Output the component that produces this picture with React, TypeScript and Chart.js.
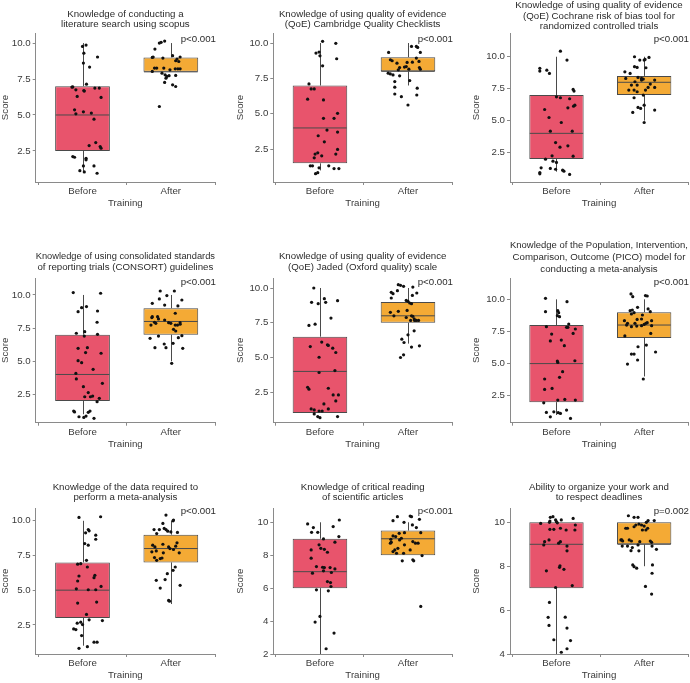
import React, { useEffect, useRef } from "react";
import { Chart, registerables } from "chart.js";

Chart.register(...registerables);
Chart.defaults.font.family = '"Liberation Sans", Arial, Helvetica, sans-serif';
Chart.defaults.color = "#3a3a3a";

// ---------- data ----------
const categories = ["Before", "After"];
const xTickValues = [0.5, 1, 1.5, 2, 2.5];
const yTicksHalf = [2.5, 5, 7.5, 10];
const yTicksCritical = [2, 4, 6, 8, 10];
const yTicksDeadlines = [4, 6, 8, 10];

const titles: string[][] = [
  ["Knowledge of conducting a", "literature search using scopus"],
  ["Knowledge of using quality of evidence", "(QoE) Cambridge Quality Checklists"],
  ["Knowledge of using quality of evidence", "(QoE) Cochrane risk of bias tool for", "randomized controlled trials"],
  ["Knowledge of using consolidated standards", "of reporting trials (CONSORT) guidelines"],
  ["Knowledge of using quality of evidence", "(QoE) Jaded (Oxford quality) scale"],
  ["Knowledge of the Population, Intervention,", "Comparison, Outcome (PICO) model for", "conducting a meta-analysis"],
  ["Knowledge of the data required to", "perform a meta-analysis"],
  ["Knowledge of critical reading", "of scientific articles"],
  ["Ability to organize your work and", "to respect deadlines"],
];
const pValues = ["p<0.001", "p<0.001", "p<0.001", "p<0.001", "p<0.001", "p<0.001", "p<0.001", "p<0.001", "p=0.002"];
const yRanges = [
  [0.34, 10.7], [0.18, 10.71], [0.19, 11.86],
  [0.36, 11.28], [0.31, 10.72], [0.4, 11.66],
  [0.4, 10.9], [2, 10.85], [4, 10.64],
];

// box stats: [lower whisker, Q1, median, Q3, upper whisker] for Before, After
const scopusBoxes = [[1, 2.5, 5, 7, 10], [8, 8, 8, 9, 10]];
const cambridgeBoxes = [[1, 1.5, 4, 7, 10], [7, 8, 8, 9, 10]];
const cochraneBoxes = [[1, 2, 4, 7, 10], [5, 7, 8, 8.5, 10]];
const consortBoxes = [[1, 2, 4, 7, 10], [5, 7, 8, 9, 10]];
const jadadBoxes = [[1, 1, 4, 6.5, 10], [6, 7.5, 8, 9, 10]];
const picoBoxes = [[1, 2, 5, 8, 10], [4, 7, 8, 9, 10]];
const metaDataBoxes = [[1, 3, 5, 7, 10], [4, 7, 8, 9, 10]];
const criticalBoxes = [[2, 6, 7, 9, 10], [8, 8, 9, 9.5, 10]];
const deadlinesBoxes = [[4, 7, 9, 10, 10], [8, 9, 9, 10, 10]];

// individual scores: [horizontal jitter (category units), score]
const scopusBefore = [[0.0,9.77],[0.04,9.86],[0.015,9.30],[0.17,9.03],[0.01,8.61],[0.08,8.33],[0.045,7.14],[-0.12,6.94],[-0.11,6.95],[-0.075,6.75],[0.015,6.70],[0.02,6.66],[0.14,6.87],[0.19,6.87],[-0.06,6.29],[0.21,6.22],[-0.09,5.36],[-0.075,5.08],[0.01,5.22],[0.10,5.13],[0.13,4.71],[0.15,3.08],[0.075,2.87],[0.2,2.80],[0.21,2.69],[-0.11,2.11],[-0.09,2.06],[0.04,1.99],[0.04,1.88],[0.01,1.46],[0.13,1.46],[-0.03,1.13],[0.02,1.04],[0.165,0.95]];
const scopusAfter = [[-0.13,10.0],[-0.11,10.05],[-0.07,10.14],[-0.18,9.58],[-0.21,9.0],[-0.2,9.03],[-0.09,8.96],[0.02,9.12],[0.07,8.89],[0.105,9.03],[0.09,8.72],[0.055,8.77],[-0.185,8.26],[-0.16,8.26],[-0.08,8.26],[-0.01,8.14],[0.05,8.21],[0.08,8.21],[0.105,8.21],[-0.21,8.03],[-0.1,7.91],[-0.065,7.79],[-0.045,7.68],[-0.02,7.73],[0.055,7.75],[-0.055,7.56],[-0.07,7.26],[0.02,7.10],[0.055,6.98],[-0.13,5.59]];
const cambridgeBefore = [[0.03,10.12],[0.18,9.98],[-0.045,9.29],[-0.01,9.36],[0,9.10],[0.19,8.89],[0.03,8.39],[-0.125,7.11],[-0.1,6.76],[-0.065,6.76],[-0.14,6.03],[0.04,5.98],[0.2,5.03],[0.04,4.68],[0.16,4.68],[0.08,3.85],[-0.02,3.45],[0.2,3.71],[0.05,3.02],[0.2,2.48],[-0.055,2.15],[-0.025,2.24],[0.02,2.03],[-0.065,1.89],[0.18,2.15],[-0.11,1.32],[-0.085,1.32],[0.1,1.32],[-0.01,1.18],[0.16,1.13],[0.215,1.13],[-0.025,0.84],[-0.05,0.77]];
const cambridgeAfter = [[0.04,9.76],[0.095,9.76],[0.11,9.69],[0.14,9.34],[-0.22,9.34],[-0.2,8.82],[-0.18,8.75],[0.095,8.94],[-0.125,8.58],[-0.01,8.63],[0.05,8.65],[0.125,8.70],[-0.095,8.27],[-0.04,8.30],[-0.02,8.34],[0.01,8.15],[-0.11,8.11],[0.13,8.27],[0.14,8.15],[-0.225,7.87],[-0.2,7.82],[-0.17,7.75],[-0.095,7.68],[-0.15,7.28],[0.02,7.35],[-0.15,6.88],[0.105,6.81],[-0.15,6.40],[-0.075,6.21],[0.1,6.33],[0,5.62]];
const cochraneBefore = [[0.045,10.44],[0.12,9.74],[-0.19,9.09],[-0.19,8.88],[-0.11,8.95],[-0.08,8.69],[0.19,7.44],[0.2,7.31],[0,6.86],[0.045,6.79],[0.15,6.71],[0.195,6.13],[0.21,6.21],[0.13,6.0],[-0.135,5.87],[-0.085,5.24],[0.055,4.85],[-0.07,4.17],[0.18,4.17],[-0.01,3.28],[0.04,2.92],[0.13,3.02],[-0.05,2.24],[0.19,2.21],[-0.125,1.98],[-0.04,1.82],[0,1.72],[-0.07,1.25],[-0.01,1.19],[0.07,1.12],[0.085,1.04],[-0.175,1.30],[-0.19,0.93],[-0.19,0.83],[0.15,0.78]];
const cochraneAfter = [[-0.11,10.0],[-0.05,9.74],[0,9.74],[0.055,9.95],[0.01,9.79],[-0.11,9.22],[-0.08,9.16],[0.02,9.14],[-0.22,8.82],[-0.16,8.69],[-0.07,8.38],[-0.03,8.30],[-0.21,8.30],[-0.01,8.25],[-0.105,8.04],[-0.03,8.17],[0.12,8.17],[0.07,7.86],[-0.145,7.78],[-0.08,7.78],[0.045,7.60],[0.12,7.60],[-0.175,7.39],[-0.115,7.39],[0.015,7.39],[-0.08,7.26],[-0.01,7.0],[-0.115,6.79],[0,6.21],[-0.07,6.03],[-0.04,5.95],[0.12,5.82],[-0.13,5.64],[0,4.85]];
const consortBefore = [[-0.105,10.18],[0.205,10.13],[0.045,9.12],[-0.01,9.04],[-0.05,8.74],[0.17,8.79],[0.165,7.94],[0.025,7.23],[-0.07,7.11],[0.02,6.90],[0.17,7.03],[-0.05,5.97],[0.055,6.02],[0.035,5.65],[0.21,5.60],[-0.05,5.04],[-0.01,4.89],[0.12,4.39],[-0.075,4.08],[-0.07,3.66],[0.01,3.08],[0.225,3.33],[0.065,2.63],[0.025,2.32],[0.09,2.32],[0.115,2.37],[0.19,2.20],[0.165,1.95],[-0.1,1.24],[-0.09,1.17],[0.065,1.14],[0.085,1.24],[-0.04,0.81],[0.015,0.76],[0.04,0.86],[0.13,0.69]];
const consortAfter = [[-0.12,10.30],[0.04,10.30],[-0.13,9.70],[0.125,9.62],[-0.21,9.37],[-0.045,9.95],[-0.07,9.24],[0.08,9.17],[0.05,8.62],[-0.21,8.36],[-0.215,8.29],[-0.14,8.19],[-0.15,8.36],[-0.07,8.11],[-0.185,7.94],[-0.17,7.86],[-0.225,7.73],[-0.025,7.91],[0,7.86],[0.105,7.91],[0.05,7.73],[0.075,7.73],[0.105,7.79],[0.03,7.41],[0.055,7.28],[0.125,6.93],[0.085,6.78],[-0.235,6.73],[-0.14,6.90],[0.025,6.35],[-0.075,6.30],[-0.055,6.02],[-0.18,6.02],[0.135,5.97],[0.01,4.84]];
const jadadBefore = [[-0.07,10.0],[-0.095,8.97],[-0.02,8.87],[0.05,9.23],[0.065,8.97],[0.2,9.09],[0.125,7.84],[-0.125,7.31],[-0.055,7.40],[-0.11,5.79],[0.02,6.11],[0.085,5.91],[0.095,5.87],[0.145,5.67],[0.18,5.36],[-0.01,5.02],[-0.01,3.92],[0.17,4.06],[-0.14,2.86],[-0.125,2.72],[0.095,2.79],[0.15,2.31],[0.21,2.31],[0.18,1.88],[0.045,1.66],[-0.1,1.30],[-0.065,1.23],[-0.01,1.15],[0.025,1.15],[0.095,1.30],[-0.065,0.94],[-0.025,0.75],[0,0.67],[0.2,0.75]];
const jadadAfter = [[-0.11,10.24],[-0.085,10.19],[-0.05,10.12],[-0.19,9.69],[-0.17,9.59],[-0.12,9.81],[0.055,10.07],[0.1,9.64],[0.05,9.47],[-0.19,9.28],[-0.02,9.11],[0,9.04],[0.02,8.92],[0.04,8.87],[-0.2,8.25],[-0.16,8.0],[-0.11,8.32],[-0.01,8.39],[0.04,8.0],[0.055,7.96],[-0.02,7.88],[0.07,7.79],[0.075,7.67],[0.095,7.67],[0.12,7.67],[0.03,7.67],[0,6.63],[0.07,6.92],[-0.07,6.32],[-0.045,6.08],[0.13,5.84],[0.04,5.75],[-0.05,5.19],[-0.085,5.0]];
const picoBefore = [[-0.125,10.08],[0.12,9.82],[-0.125,9.04],[0.015,9.12],[0.025,8.96],[0.01,8.73],[0.035,8.65],[0.14,8.08],[-0.115,7.87],[0.115,7.82],[0.13,7.82],[0.215,7.69],[-0.055,7.30],[0.19,7.35],[-0.07,6.76],[0.055,6.83],[0.09,6.39],[0.01,5.20],[0.015,5.09],[0.21,5.22],[0.07,4.37],[0.035,3.93],[-0.135,3.80],[-0.05,3.07],[-0.135,2.99],[0.015,2.16],[0.095,2.21],[0.215,2.16],[-0.145,1.95],[-0.115,1.20],[-0.03,1.25],[0.02,1.18],[0.045,1.12],[0.115,1.38],[-0.07,0.86],[0.16,0.73]];
const picoAfter = [[-0.15,10.42],[-0.13,10.21],[0.015,10.29],[0.035,10.26],[-0.075,9.38],[0.045,9.25],[-0.16,9.12],[-0.135,9.17],[0.07,9.04],[-0.145,8.86],[-0.115,8.96],[-0.02,8.78],[-0.225,8.34],[-0.19,8.13],[-0.2,8.0],[-0.08,8.44],[-0.03,8.47],[-0.105,8.13],[0.02,8.13],[0.085,8.34],[0.035,8.18],[-0.145,7.87],[-0.085,7.92],[-0.03,7.95],[0,8.05],[0.085,7.95],[-0.22,7.15],[0.075,7.35],[0.025,6.44],[-0.07,6.31],[-0.145,5.74],[-0.115,5.74],[0.13,5.90],[-0.075,5.28],[-0.19,4.96],[-0.01,3.80]];
const metaDataBefore = [[-0.04,10.24],[0.205,10.29],[0.065,9.37],[0.075,9.28],[0.035,9.13],[0.15,8.96],[0.15,8.67],[0.025,8.36],[0.065,8.24],[0.045,7.15],[-0.055,6.87],[-0.02,6.91],[0.055,6.67],[-0.04,6.02],[0.14,6.07],[0.13,5.90],[-0.055,5.66],[0.21,5.27],[-0.07,5.10],[0.065,5.03],[0.15,5.03],[-0.055,4.07],[0.16,4.14],[0.045,3.25],[0.075,2.86],[0.225,2.81],[-0.06,2.62],[-0.02,2.69],[0,2.52],[-0.1,2.21],[-0.075,2.16],[-0.01,1.73],[0.13,1.25],[0.165,1.25],[0.055,0.93],[-0.04,0.81]];
const metaDataAfter = [[-0.055,10.41],[0.025,10.0],[0.03,10.05],[-0.09,9.81],[-0.19,9.37],[-0.13,9.37],[-0.075,9.45],[-0.055,9.37],[-0.035,9.25],[0,9.20],[0.075,9.16],[-0.16,9.08],[-0.205,8.24],[-0.18,8.12],[-0.09,8.31],[0.07,8.41],[0.055,8.17],[-0.025,8.12],[-0.01,8.0],[-0.165,7.83],[-0.215,7.76],[-0.085,7.69],[0.095,7.69],[0.03,7.93],[-0.185,7.35],[-0.12,7.28],[-0.1,7.32],[-0.16,7.15],[0.05,6.67],[0.025,6.43],[-0.04,6.19],[-0.165,5.71],[-0.065,5.76],[-0.12,5.15],[0.105,5.35],[-0.025,4.26],[-0.015,4.21]];
const criticalBefore = [[-0.14,9.90],[0.22,10.14],[-0.075,9.68],[0.15,9.74],[-0.095,9.39],[-0.025,9.39],[0.215,9.13],[0.04,8.99],[0.17,8.79],[-0.01,8.63],[0.01,8.42],[0.05,8.36],[0.085,8.18],[-0.1,8.32],[-0.1,7.82],[-0.04,7.31],[0.03,7.27],[0.05,7.25],[0.115,7.25],[0.17,7.17],[-0.085,6.91],[0.04,7.05],[0.13,6.95],[0.085,6.40],[0.12,6.34],[0.125,6.10],[-0.04,5.90],[0.095,5.84],[0,4.28],[-0.055,3.94],[0.16,3.27],[0.07,2.32]];
const criticalAfter = [[-0.17,10.10],[-0.12,10.34],[0.025,10.38],[0.04,10.34],[0.13,10.18],[-0.045,10.0],[0.05,9.84],[0.095,9.68],[-0.04,9.37],[-0.1,9.33],[-0.17,9.17],[-0.14,9.13],[0.145,9.37],[-0.095,8.93],[-0.075,9.03],[-0.195,8.97],[-0.2,8.73],[-0.19,8.79],[0.055,8.83],[0.085,8.73],[0.115,8.73],[-0.04,8.63],[-0.115,8.42],[-0.15,8.32],[0.025,8.32],[-0.17,8.22],[-0.13,8.12],[-0.05,8.12],[0.16,7.98],[-0.065,7.66],[0.055,7.72],[0.065,7.66],[0.145,4.89]];
const deadlinesBefore = [[-0.07,10.23],[-0.04,10.26],[-0.01,10.11],[0,10.03],[-0.075,10.06],[0.055,10.11],[0.19,10.18],[0.215,9.88],[-0.08,10.0],[0.01,9.98],[-0.18,9.95],[-0.075,9.68],[-0.03,9.68],[0.045,9.73],[0.11,9.65],[0.21,9.65],[-0.085,9.20],[-0.135,9.12],[-0.145,8.97],[0.025,9.05],[0.045,9.12],[0.12,8.92],[0.12,8.70],[0.04,8.02],[0.035,7.95],[0.085,7.86],[-0.115,7.79],[-0.01,7.03],[0.18,7.12],[-0.08,6.35],[-0.095,5.67],[0.1,5.68],[-0.085,5.30],[0.12,5.18],[-0.03,4.65],[0.16,4.61],[0.12,4.24],[0.055,4.08]];
const deadlinesAfter = [[-0.18,10.30],[-0.115,10.23],[-0.07,10.23],[-0.19,9.73],[-0.21,9.73],[-0.115,9.80],[-0.095,9.88],[-0.06,9.92],[-0.03,9.88],[0,9.83],[0.025,10.0],[0.045,10.08],[0.02,9.65],[-0.02,9.65],[0.04,9.73],[0.115,10.08],[-0.265,9.20],[-0.255,9.20],[-0.245,9.15],[-0.17,9.20],[-0.145,9.15],[0.07,9.15],[0.085,9.09],[-0.05,9.12],[-0.25,8.92],[-0.19,8.92],[-0.135,8.85],[-0.07,8.97],[0.09,8.92],[0.14,8.77],[-0.15,8.71],[-0.06,8.70],[-0.13,8.06],[-0.115,7.98],[-0.085,7.91],[0.095,8.06],[0.09,7.68],[0.015,7.08],[0.085,6.73]];

const panels = [
  { before: scopusBefore, after: scopusAfter, boxes: scopusBoxes, yTicks: yTicksHalf, decimals: 1 },
  { before: cambridgeBefore, after: cambridgeAfter, boxes: cambridgeBoxes, yTicks: yTicksHalf, decimals: 1 },
  { before: cochraneBefore, after: cochraneAfter, boxes: cochraneBoxes, yTicks: yTicksHalf, decimals: 1 },
  { before: consortBefore, after: consortAfter, boxes: consortBoxes, yTicks: yTicksHalf, decimals: 1 },
  { before: jadadBefore, after: jadadAfter, boxes: jadadBoxes, yTicks: yTicksHalf, decimals: 1 },
  { before: picoBefore, after: picoAfter, boxes: picoBoxes, yTicks: yTicksHalf, decimals: 1 },
  { before: metaDataBefore, after: metaDataAfter, boxes: metaDataBoxes, yTicks: yTicksHalf, decimals: 1 },
  { before: criticalBefore, after: criticalAfter, boxes: criticalBoxes, yTicks: yTicksCritical, decimals: 0 },
  { before: deadlinesBefore, after: deadlinesAfter, boxes: deadlinesBoxes, yTicks: yTicksDeadlines, decimals: 0 },
];

// ---------- layout / style ----------
const FONT_SIZE = 9.7;
const X_AXIS_H = 27;
const AXIS_COLOR = "#8a8a8a";
const BOX_LINE = "#4a4a4a";
const FILLS = ["#E8546C", "#F4AA35"];
const colGeom = [
  { left: 0, yAxisW: 35.7, padRight: 15, scoreOffset: 0 },
  { left: 230, yAxisW: 43.3, padRight: 8, scoreOffset: 5.2 },
  { left: 460, yAxisW: 50, padRight: 2, scoreOffset: 11.2 },
];
const rowGeom = [
  { top: 0, height: 230, chartTop: 33, chartBottom: 182, pOffset: 6 },
  { top: 230, height: 230, chartTop: 48, chartBottom: 192.7, pOffset: 4 },
  { top: 460, height: 223, chartTop: 48.3, chartBottom: 194, pOffset: 3 },
];
// [first title line centre, title line height]
const titleGeom = [[14, 10], [14, 10.2], [5.7, 10.2], [26, 11.3], [26, 11.3], [15.7, 11.6], [27.3, 10.4], [27.3, 10.4], [27.3, 10.4]];

function Panel({ idx }: { idx: number }) {
  const ref = useRef<HTMLCanvasElement>(null);
  const col = colGeom[idx % 3];
  const row = rowGeom[Math.floor(idx / 3)];

  useEffect(() => {
    const cfg = panels[idx];
    const title = titles[idx];
    const [firstCenter, lh] = titleGeom[idx];
    const padT = firstCenter - lh / 2;
    const padB = row.chartTop - padT - title.length * lh;
    const points = [
      ...cfg.before.map(([dx, y]) => ({ x: 1 + dx, y })),
      ...cfg.after.map(([dx, y]) => ({ x: 2 + dx, y })),
    ];

    const boxPlugin = {
      id: "boxDetails",
      afterDatasetDraw(chart: any, args: any) {
        if (args.index !== 1) return;
        const yS = chart.scales.y;
        const meta = chart.getDatasetMeta(1);
        const ctx = chart.ctx;
        ctx.save();
        ctx.strokeStyle = BOX_LINE;
        ctx.lineWidth = 1;
        cfg.boxes.forEach((s: number[], i: number) => {
          const bar = meta.data[i];
          const { x: bx, width } = bar.getProps(["x", "width"], true);
          const cx = Math.round(bx) + 0.5;
          ctx.beginPath();
          ctx.moveTo(cx, yS.getPixelForValue(s[3]));
          ctx.lineTo(cx, yS.getPixelForValue(s[4]));
          ctx.moveTo(cx, yS.getPixelForValue(s[1]));
          ctx.lineTo(cx, yS.getPixelForValue(s[0]));
          ctx.stroke();
          const my = yS.getPixelForValue(s[2]);
          ctx.beginPath();
          ctx.moveTo(bx - width / 2 + 0.5, my);
          ctx.lineTo(bx + width / 2 - 0.5, my);
          ctx.stroke();
        });
        ctx.restore();
      },
      afterDraw(chart: any) {
        const ctx = chart.ctx;
        const a = chart.chartArea;
        ctx.save();
        ctx.font = `${FONT_SIZE}px "Liberation Sans", Arial, sans-serif`;
        ctx.fillStyle = "#2b2b2b";
        ctx.textAlign = "right";
        ctx.textBaseline = "middle";
        ctx.fillText(pValues[idx], a.right + 1, a.top + row.pOffset);
        ctx.restore();
      },
    };

    const chart = new Chart(ref.current as HTMLCanvasElement, {
      type: "bar",
      data: {
        datasets: [
          {
            type: "scatter",
            data: points,
            order: 1,
            pointRadius: 1.6,
            pointHoverRadius: 1.6,
            pointBackgroundColor: "#111111",
            pointBorderWidth: 0,
          } as any,
          {
            type: "bar",
            data: cfg.boxes.map((b, i) => ({ x: i + 1, y: [b[1], b[3]] })),
            order: 2,
            backgroundColor: FILLS,
            borderColor: BOX_LINE,
            borderWidth: 1,
            borderSkipped: false,
            // ticks are every 0.5 unit, so 1.24 gives a box 0.62 category wide
            barPercentage: 1.24,
            categoryPercentage: 1,
          } as any,
        ],
      },
      options: {
        responsive: false,
        animation: false,
        events: [],
        layout: {
          padding: { top: 0, left: 0, right: col.padRight, bottom: row.height - row.chartBottom - X_AXIS_H },
        },
        plugins: {
          legend: { display: false },
          tooltip: { enabled: false },
          title: {
            display: true,
            text: title,
            fullSize: false,
            color: "#2b2b2b",
            font: { size: FONT_SIZE, weight: "normal", lineHeight: lh / FONT_SIZE },
            padding: { top: padT, bottom: padB },
          },
        },
        scales: {
          x: {
            type: "linear",
            min: 0.47,
            max: 2.5,
            offset: false,
            bounds: "data",
            afterFit: (s: any) => { s.height = X_AXIS_H; },
            afterBuildTicks: (s: any) => { s.ticks = xTickValues.map((v) => ({ value: v })); },
            ticks: {
              autoSkip: false,
              maxRotation: 0,
              padding: 1,
              color: "#3a3a3a",
              font: { size: FONT_SIZE },
              callback: (v: any) => (Number.isInteger(v) ? categories[v - 1] : ""),
            },
            grid: {
              drawOnChartArea: false,
              offset: false,
              tickLength: 3,
              tickColor: (c: any) => (c.tick && Number.isInteger(c.tick.value) ? "rgba(0,0,0,0)" : AXIS_COLOR),
            },
            border: { color: AXIS_COLOR, width: 1 },
            title: {
              display: true,
              text: "Training",
              color: "#3a3a3a",
              font: { size: FONT_SIZE, lineHeight: 1 },
              padding: { top: 0, bottom: 0.6 },
            },
          },
          y: {
            type: "linear",
            min: yRanges[idx][0],
            max: yRanges[idx][1],
            bounds: "data",
            beginAtZero: false,
            afterFit: (s: any) => { s.width = col.yAxisW; },
            afterBuildTicks: (s: any) => { s.ticks = cfg.yTicks.map((v) => ({ value: v })); },
            ticks: {
              autoSkip: false,
              padding: 2,
              color: "#3a3a3a",
              font: { size: FONT_SIZE },
              callback: (v: any) => Number(v).toFixed(cfg.decimals),
            },
            grid: { drawOnChartArea: false, tickLength: 3, tickColor: AXIS_COLOR },
            border: { color: AXIS_COLOR, width: 1 },
            title: {
              display: true,
              text: "Score",
              color: "#3a3a3a",
              font: { size: FONT_SIZE, lineHeight: 1 },
              padding: { top: col.scoreOffset, bottom: 0 },
            },
          },
        },
      } as any,
      plugins: [boxPlugin],
    });
    return () => chart.destroy();
  }, [idx]);

  return (
    <canvas
      ref={ref}
      width={230}
      height={row.height}
      style={{ position: "absolute", left: col.left, top: row.top, width: 230, height: row.height }}
    />
  );
}

export default function App() {
  return (
    <div style={{ position: "absolute", left: 0, top: 0, width: 690, height: 683, background: "#ffffff" }}>
      {panels.map((_, i) => (
        <Panel key={i} idx={i} />
      ))}
    </div>
  );
}
